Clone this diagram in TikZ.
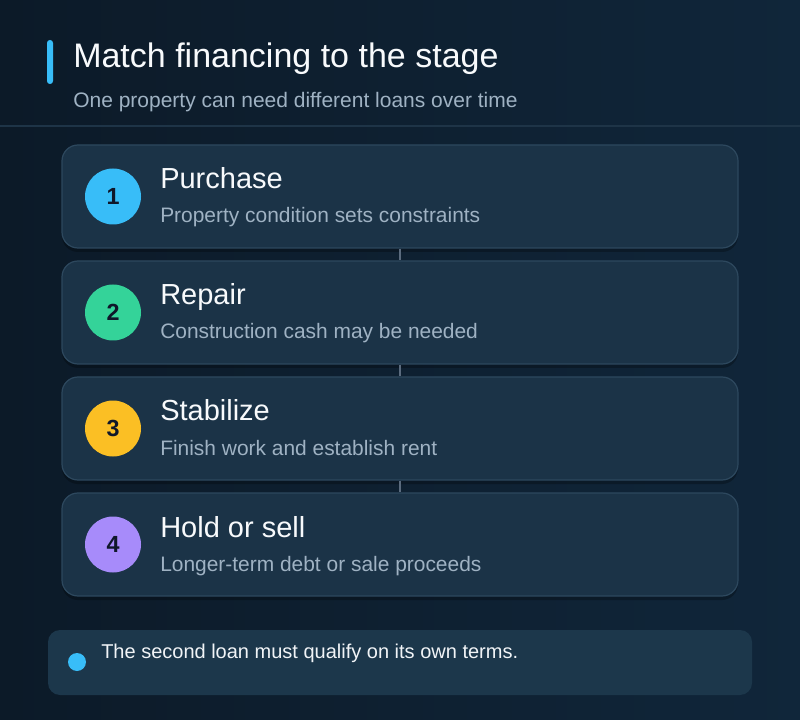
\documentclass[tikz,border=0pt]{standalone}
\usepackage{fontspec}
\setmainfont{Liberation Sans}
\usetikzlibrary{shadows}
\definecolor{bgleft}{HTML}{0C1A28}
\definecolor{bgright}{HTML}{10263A}
\definecolor{cardfill}{HTML}{1B3347}
\definecolor{cardline}{HTML}{2D485E}
\definecolor{notefill}{HTML}{1C374B}
\definecolor{ruleline}{HTML}{1E3447}
\definecolor{linkgray}{HTML}{5B6B7E}
\definecolor{subtext}{HTML}{9FB2C3}
\definecolor{headtext}{HTML}{F8FAFC}
\definecolor{numtext}{HTML}{0F172A}
\definecolor{accent}{HTML}{38BDF8}
\definecolor{stepone}{HTML}{38BDF8}
\definecolor{steptwo}{HTML}{34D399}
\definecolor{stepthree}{HTML}{FBBF24}
\definecolor{stepfour}{HTML}{A78BFA}
\begin{document}
\begin{tikzpicture}[x=0.75pt,y=-0.75pt,
  card/.style={draw=cardline, line width=0.9pt, fill=cardfill, rounded corners=12pt,
    minimum width=507pt, minimum height=77.25pt, inner sep=0pt,
    drop shadow={shadow xshift=0pt, shadow yshift=-3pt, opacity=0.25, fill=black}},
  badge/.style={circle, minimum size=42pt, inner sep=0pt, text=numtext, font=\fontsize{17.5}{19}\selectfont\bfseries},
  steptitle/.style={anchor=base west, inner sep=0pt, text=headtext, font=\fontsize{21.75}{24}\selectfont},
  stepdesc/.style={anchor=base west, inner sep=0pt, text=subtext, font=\fontsize{15.7}{18}\selectfont},
  link/.style={draw=linkgray, line width=2.2pt}]
\useasboundingbox (0,0) rectangle (800,720);
\shade[left color=bgleft, right color=bgright] (0,0) rectangle (800,720);
% header
\fill[accent, rounded corners=2.2pt] (47,40) rectangle (53,84);
\node[anchor=base west, inner sep=0pt, text=headtext, font=\fontsize{25.5}{28}\selectfont] (title) at (73,68) {Match financing to the stage};
\node[anchor=base west, inner sep=0pt, text=subtext, font=\fontsize{15.75}{18}\selectfont] (subtitle) at (73,108) {One property can need different loans over time};
\draw[ruleline, line width=1.5pt] (0,126) -- (800,126);
% stages
\node[card] (s1) at (400,196.5) {};
\node[card] (s2) at (400,312.5) {};
\node[card] (s3) at (400,428.5) {};
\node[card] (s4) at (400,544.5) {};
\begin{scope}[every edge/.style={link}]
  \path (s1.south) edge (s2.north);
  \path (s2.south) edge (s3.north);
  \path (s3.south) edge (s4.north);
\end{scope}
\node[badge, fill=stepone] (b1) at (113,196.5) {1};
\node[badge, fill=steptwo] (b2) at (113,312.5) {2};
\node[badge, fill=stepthree] (b3) at (113,428.5) {3};
\node[badge, fill=stepfour] (b4) at (113,544.5) {4};
\node[steptitle] (t1) at (160,189) {Purchase};
\node[stepdesc] (d1) at (160,223) {Property condition sets constraints};
\node[steptitle] (t2) at (160,305) {Repair};
\node[stepdesc] (d2) at (160,339) {Construction cash may be needed};
\node[steptitle] (t3) at (160,421) {Stabilize};
\node[stepdesc] (d3) at (160,455) {Finish work and establish rent};
\node[steptitle] (t4) at (160,537) {Hold or sell};
\node[stepdesc] (d4) at (160,571) {Longer-term debt or sale proceeds};
% note
\node[fill=notefill, rounded corners=9pt, minimum width=528pt, minimum height=48.75pt, inner sep=0pt] (note) at (400,662.5) {};
\node[circle, fill=accent, minimum size=13.5pt, inner sep=0pt] (dot) at (77,662) {};
\node[anchor=base west, inner sep=0pt, text=headtext!92!subtext, font=\fontsize{15}{17}\selectfont] (notetext) at (101,658) {The second loan must qualify on its own terms.};
\end{tikzpicture}
\end{document}
